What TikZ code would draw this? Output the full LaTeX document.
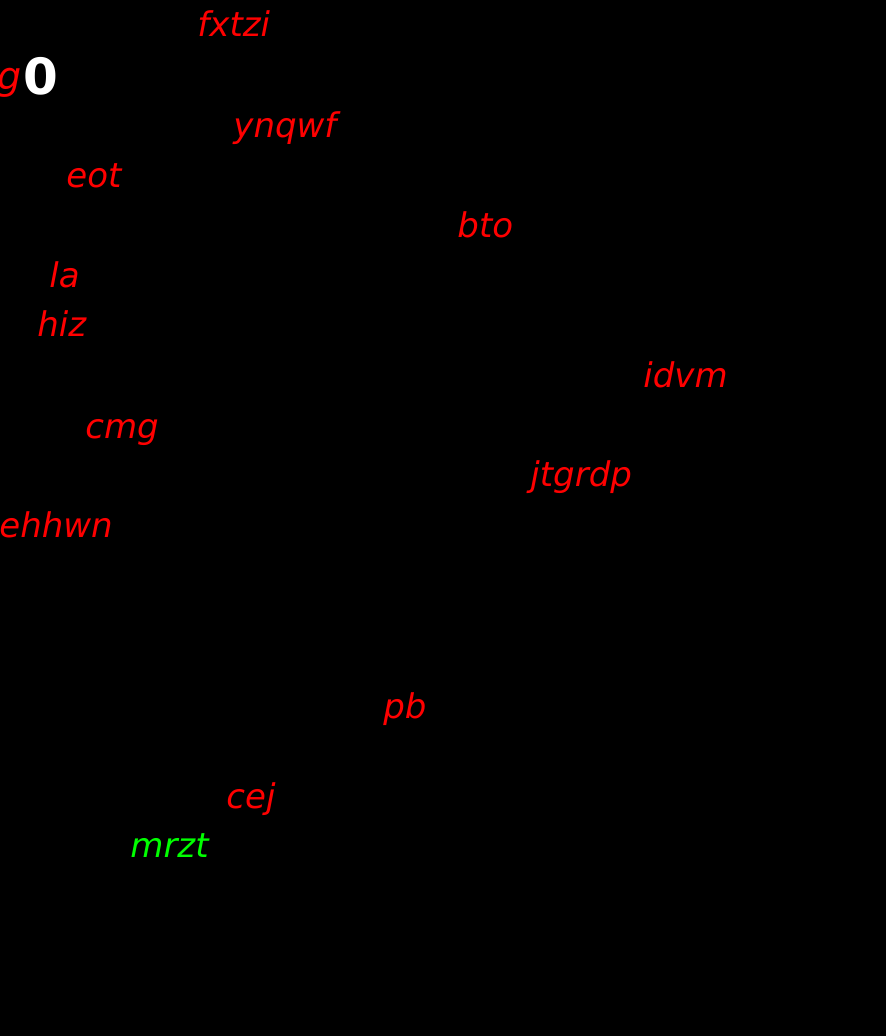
\documentclass[tikz,border=0pt]{standalone}
\usepackage{fontspec}
\setmainfont{DejaVu Sans}
\usepackage{tikz}

\begin{document}
\begin{tikzpicture}[x=0.5pt, y=-0.5pt,
	every node/.style={inner sep=0pt, anchor=base west, font=\fontsize{17}{20}\selectfont\itshape},
	lbl/.style={text=red},
	hit/.style={text=green}]
	\fill[black] (0,0) rectangle (886,1036);
	\useasboundingbox (0,0) rectangle (886,1036);
	\node[lbl, font=\fontsize{19}{22}\selectfont\itshape] (g) at (-3,90) {g};
	\node[text=white, font=\fontsize{25}{30}\selectfont\bfseries] (zero) at (23,95) {0};
	\node[lbl] (fxtzi) at (197,37) {fxtzi};
	\node[lbl] (ynqwf) at (233,138) {ynqwf};
	\node[lbl] (eot) at (66,188) {eot};
	\node[lbl] (bto) at (457,238) {bto};
	\node[lbl] (la) at (49,288) {la};
	\node[lbl] (hiz) at (37,337) {hiz};
	\node[lbl] (idvm) at (643,388) {idvm};
	\node[lbl] (cmg) at (85,438) {cmg};
	\node[lbl] (jtgrdp) at (530,487) {jtgrdp};
	\node[lbl] (ehhwn) at (-1,537) {ehhwn};
	\node[lbl] (pb) at (383,718) {pb};
	\node[lbl] (cej) at (226,808) {cej};
	\node[hit] (mrzt) at (130,857) {mrzt};
\end{tikzpicture}
\end{document}
